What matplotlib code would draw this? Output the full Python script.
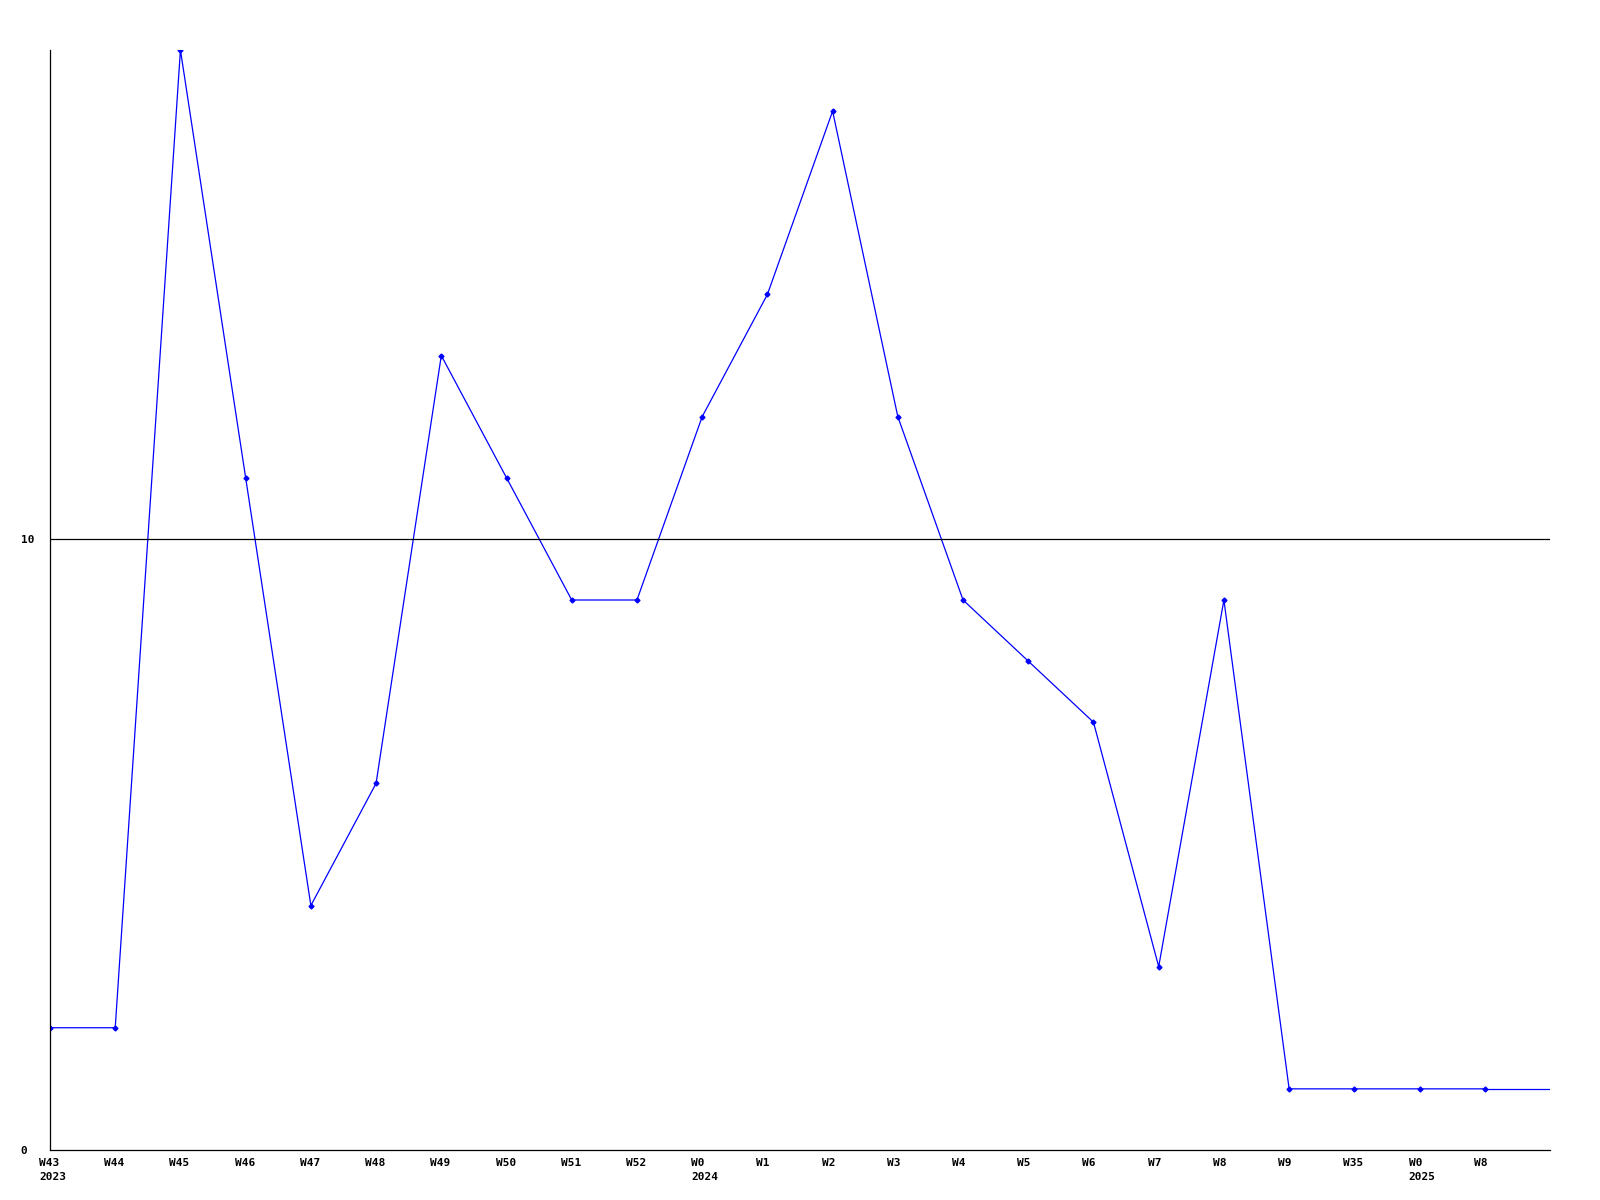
import numpy as np
import matplotlib.pyplot as plt
import matplotlib.transforms as mtransforms

weeks = ["W43", "W44", "W45", "W46", "W47", "W48", "W49", "W50", "W51", "W52",
         "W0", "W1", "W2", "W3", "W4", "W5", "W6", "W7", "W8", "W9",
         "W35", "W0", "W8"]
years = {0: "2023", 10: "2024", 21: "2025"}
counts = [2, 2, 18, 11, 4, 6, 13, 11, 9, 9,
          12, 14, 17, 12, 9, 8, 7, 3, 9, 1,
          1, 1, 1]

plt.rcParams['font.family'] = ['DejaVu Sans Mono']

fig = plt.figure(figsize=(16, 12), dpi=100)
ax = fig.add_axes([0.03125, 0.0417, 0.9375, 0.9166])

x = np.arange(len(counts))
ax.plot(x, counts, color='#0000ff', lw=0.9, marker='D', ms=2.5)
# line runs on to the right edge at the last value
ax.plot([x[-1], len(counts)], [counts[-1], counts[-1]], color='#0000ff', lw=0.9)
ax.axhline(10, color='black', lw=0.9)

ax.set_xlim(0, len(counts))
ax.set_ylim(0, 18)

labels = [w + "\n" + years.get(i, "") for i, w in enumerate(weeks)]
ax.set_xticks(x)
ax.set_xticklabels(labels, fontsize=8, fontweight='bold', linespacing=1.5, va='top')
ax.set_yticks([0, 10])
ax.set_yticklabels(["0", "10"], fontsize=8, fontweight='bold', ha='left')
ax.tick_params(axis='x', length=0, pad=6)
ax.tick_params(axis='y', length=0, pad=21)
shift = mtransforms.ScaledTranslation(-0.11, 0, fig.dpi_scale_trans)
for lbl in ax.get_xticklabels():
    lbl.set_horizontalalignment('left')
    lbl.set_multialignment('left')
    lbl.set_transform(lbl.get_transform() + shift)

for s in ['top', 'right']:
    ax.spines[s].set_visible(False)
for s in ['left', 'bottom']:
    ax.spines[s].set_linewidth(0.9)

fig.savefig("out.png", dpi=100)
